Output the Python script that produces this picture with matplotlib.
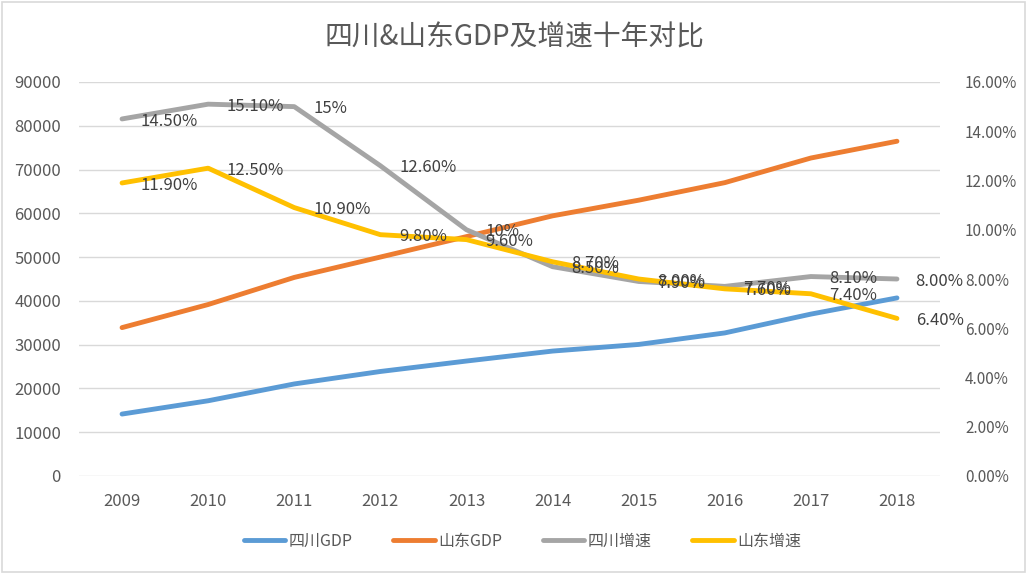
import matplotlib
matplotlib.use("Agg")
import matplotlib.pyplot as plt
from matplotlib.patches import Rectangle
from matplotlib.ticker import FuncFormatter, MultipleLocator

plt.rcParams['font.family'] = ['Noto Sans CJK SC', 'DejaVu Sans']

years = ['2009', '2010', '2011', '2012', '2013', '2014', '2015', '2016', '2017', '2018']
sc_gdp = [14151, 17185, 21027, 23873, 26261, 28537, 30053, 32681, 36980, 40678]
sd_gdp = [33897, 39170, 45362, 50013, 54684, 59427, 63002, 67008, 72634, 76470]
sc_growth = [14.5, 15.1, 15.0, 12.6, 10.0, 8.5, 7.9, 7.7, 8.1, 8.0]
sd_growth = [11.9, 12.5, 10.9, 9.8, 9.6, 8.7, 8.0, 7.6, 7.4, 6.4]
sc_labels = ['14.50%', '15.10%', '15%', '12.60%', '10%', '8.50%', '7.90%', '7.70%', '8.10%', '8.00%']
sd_labels = ['11.90%', '12.50%', '10.90%', '9.80%', '9.60%', '8.70%', '8.00%', '7.60%', '7.40%', '6.40%']
series_names = ['四川GDP', '山东GDP', '四川增速', '山东增速']
title = '四川&山东GDP及增速十年对比'

c_blue, c_orange, c_gray, c_yellow = '#5B9BD5', '#ED7D31', '#A5A5A5', '#FFC000'
txt = '#595959'
lw = 3.5

fig = plt.figure(figsize=(10.28, 5.73), dpi=100)
fig.patches.append(Rectangle((0.002, 0.002), 0.995, 0.995, transform=fig.transFigure,
                             fill=False, edgecolor='#D9D9D9', linewidth=1.2))
ax = fig.add_axes([79/1028, 1-476/573, (940-79)/1028, (476-82)/573])
ax2 = ax.twinx()

x = list(range(len(years)))
kw = dict(lw=lw, solid_capstyle='round', solid_joinstyle='round')
l1, = ax.plot(x, sc_gdp, color=c_blue, **kw)
l2, = ax.plot(x, sd_gdp, color=c_orange, **kw)
l3, = ax2.plot(x, [v/100 for v in sc_growth], color=c_gray, **kw)
l4, = ax2.plot(x, [v/100 for v in sd_growth], color=c_yellow, **kw)

for vals, labs in ((sc_growth, sc_labels), (sd_growth, sd_labels)):
    for xi, v, s in zip(x, vals, labs):
        ax2.annotate(s, (xi, v/100), xytext=(13.5, -1.5), textcoords='offset points',
                     ha='left', va='center', fontsize=12, color='#404040')

ax.set_xlim(-0.5, 9.5)
ax.set_ylim(0, 90000)
ax2.set_ylim(0, 0.16)
ax.yaxis.set_major_locator(MultipleLocator(10000))
ax2.yaxis.set_major_locator(MultipleLocator(0.02))
ax2.yaxis.set_major_formatter(FuncFormatter(lambda v, p: f'{v*100:.2f}%'))
ax.set_xticks(x)
ax.set_xticklabels(years)

ax.grid(axis='y', color='#D9D9D9', lw=1)
ax.set_axisbelow(True)
for a in (ax, ax2):
    for sp in a.spines.values():
        sp.set_visible(False)
    a.tick_params(length=0, colors=txt)
ax.tick_params(axis='y', pad=13, labelsize=12)
ax.tick_params(axis='x', pad=12, labelsize=12)
ax2.tick_params(axis='y', pad=18, labelsize=11)

fig.suptitle(title, y=1-38/573, va='center', fontsize=20, color=txt)

fig.legend([l1, l2, l3, l4], series_names, loc='center', bbox_to_anchor=(0.508, 1-541/573),
           ncol=4, frameon=False, fontsize=11.5, handlelength=2.6, columnspacing=2.55,
           handletextpad=0.2, labelcolor=txt)

fig.savefig('out.png', dpi=100)
